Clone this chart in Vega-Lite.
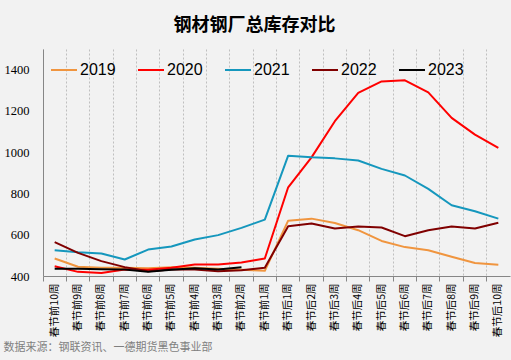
{
  "$schema": "https://vega.github.io/schema/vega-lite/v6.json",
  "width": 467,
  "height": 227,
  "autosize": {"type": "none"},
  "padding": {"left": 43, "top": 49, "right": 1, "bottom": 84},
  "background": "#f2f2f2",
  "title": {
    "text": "钢材钢厂总库存对比",
    "font": "Noto Sans CJK SC",
    "fontSize": 18,
    "fontWeight": "bold",
    "color": "#000000",
    "anchor": "middle",
    "dx": -22,
    "offset": 14
  },
  "config": {
    "view": {"stroke": null},
    "font": "Noto Sans CJK SC"
  },
  "datasets": {
    "inv": [
      {"week": "春节前10周", "year": "2019", "value": 485},
      {"week": "春节前9周", "year": "2019", "value": 445},
      {"week": "春节前8周", "year": "2019", "value": 440},
      {"week": "春节前7周", "year": "2019", "value": 440},
      {"week": "春节前6周", "year": "2019", "value": 438},
      {"week": "春节前5周", "year": "2019", "value": 443},
      {"week": "春节前4周", "year": "2019", "value": 440},
      {"week": "春节前3周", "year": "2019", "value": 435},
      {"week": "春节前2周", "year": "2019", "value": 430},
      {"week": "春节前1周", "year": "2019", "value": 425},
      {"week": "春节后1周", "year": "2019", "value": 668},
      {"week": "春节后2周", "year": "2019", "value": 678},
      {"week": "春节后3周", "year": "2019", "value": 657},
      {"week": "春节后4周", "year": "2019", "value": 622},
      {"week": "春节后5周", "year": "2019", "value": 570},
      {"week": "春节后6周", "year": "2019", "value": 540},
      {"week": "春节后7周", "year": "2019", "value": 525},
      {"week": "春节后8周", "year": "2019", "value": 493},
      {"week": "春节后9周", "year": "2019", "value": 463},
      {"week": "春节后10周", "year": "2019", "value": 455},

      {"week": "春节前10周", "year": "2020", "value": 447},
      {"week": "春节前9周", "year": "2020", "value": 420},
      {"week": "春节前8周", "year": "2020", "value": 415},
      {"week": "春节前7周", "year": "2020", "value": 432},
      {"week": "春节前6周", "year": "2020", "value": 430},
      {"week": "春节前5周", "year": "2020", "value": 440},
      {"week": "春节前4周", "year": "2020", "value": 456},
      {"week": "春节前3周", "year": "2020", "value": 456},
      {"week": "春节前2周", "year": "2020", "value": 465},
      {"week": "春节前1周", "year": "2020", "value": 485},
      {"week": "春节后1周", "year": "2020", "value": 830},
      {"week": "春节后2周", "year": "2020", "value": 975},
      {"week": "春节后3周", "year": "2020", "value": 1150},
      {"week": "春节后4周", "year": "2020", "value": 1287},
      {"week": "春节后5周", "year": "2020", "value": 1343},
      {"week": "春节后6周", "year": "2020", "value": 1348},
      {"week": "春节后7周", "year": "2020", "value": 1290},
      {"week": "春节后8周", "year": "2020", "value": 1166},
      {"week": "春节后9周", "year": "2020", "value": 1085},
      {"week": "春节后10周", "year": "2020", "value": 1021},

      {"week": "春节前10周", "year": "2021", "value": 525},
      {"week": "春节前9周", "year": "2021", "value": 515},
      {"week": "春节前8周", "year": "2021", "value": 509},
      {"week": "春节前7周", "year": "2021", "value": 480},
      {"week": "春节前6周", "year": "2021", "value": 528},
      {"week": "春节前5周", "year": "2021", "value": 543},
      {"week": "春节前4周", "year": "2021", "value": 577},
      {"week": "春节前3周", "year": "2021", "value": 598},
      {"week": "春节前2周", "year": "2021", "value": 633},
      {"week": "春节前1周", "year": "2021", "value": 673},
      {"week": "春节后1周", "year": "2021", "value": 983},
      {"week": "春节后2周", "year": "2021", "value": 975},
      {"week": "春节后3周", "year": "2021", "value": 970},
      {"week": "春节后4周", "year": "2021", "value": 960},
      {"week": "春节后5周", "year": "2021", "value": 919},
      {"week": "春节后6周", "year": "2021", "value": 887},
      {"week": "春节后7周", "year": "2021", "value": 822},
      {"week": "春节后8周", "year": "2021", "value": 743},
      {"week": "春节后9周", "year": "2021", "value": 714},
      {"week": "春节后10周", "year": "2021", "value": 678},

      {"week": "春节前10周", "year": "2022", "value": 564},
      {"week": "春节前9周", "year": "2022", "value": 512},
      {"week": "春节前8周", "year": "2022", "value": 472},
      {"week": "春节前7周", "year": "2022", "value": 443},
      {"week": "春节前6周", "year": "2022", "value": 423},
      {"week": "春节前5周", "year": "2022", "value": 432},
      {"week": "春节前4周", "year": "2022", "value": 432},
      {"week": "春节前3周", "year": "2022", "value": 423},
      {"week": "春节前2周", "year": "2022", "value": 428},
      {"week": "春节前1周", "year": "2022", "value": 440},
      {"week": "春节后1周", "year": "2022", "value": 641},
      {"week": "春节后2周", "year": "2022", "value": 654},
      {"week": "春节后3周", "year": "2022", "value": 630},
      {"week": "春节后4周", "year": "2022", "value": 640},
      {"week": "春节后5周", "year": "2022", "value": 635},
      {"week": "春节后6周", "year": "2022", "value": 593},
      {"week": "春节后7周", "year": "2022", "value": 622},
      {"week": "春节后8周", "year": "2022", "value": 640},
      {"week": "春节后9周", "year": "2022", "value": 630},
      {"week": "春节后10周", "year": "2022", "value": 658},

      {"week": "春节前10周", "year": "2023", "value": 435},
      {"week": "春节前9周", "year": "2023", "value": 435},
      {"week": "春节前8周", "year": "2023", "value": 433},
      {"week": "春节前7周", "year": "2023", "value": 432},
      {"week": "春节前6周", "year": "2023", "value": 420},
      {"week": "春节前5周", "year": "2023", "value": 430},
      {"week": "春节前4周", "year": "2023", "value": 438},
      {"week": "春节前3周", "year": "2023", "value": 432},
      {"week": "春节前2周", "year": "2023", "value": 442}
    ]
  },
  "data": {"name": "inv"},
  "mark": {"type": "line", "strokeJoin": "round"},
  "encoding": {
    "x": {
      "field": "week",
      "type": "nominal",
      "sort": null,
      "bandPosition": 0.5,
      "scale": {
        "type": "band",
        "paddingInner": 0,
        "paddingOuter": 0,
        "domain": ["春节前10周","春节前9周","春节前8周","春节前7周","春节前6周","春节前5周","春节前4周","春节前3周","春节前2周","春节前1周","春节后1周","春节后2周","春节后3周","春节后4周","春节后5周","春节后6周","春节后7周","春节后8周","春节后9周","春节后10周"]
      },
      "axis": {
        "title": "数据来源：钢联资讯、一德期货黑色事业部",
        "titleFont": "Noto Sans CJK SC",
        "titleFontSize": 11,
        "titleFontWeight": "normal",
        "titleColor": "#7f7f7f",
        "titleAnchor": "start",
        "titleAlign": "left",
        "titleBaseline": "alphabetic",
        "titleX": -40,
        "titleY": 74,
        "bandPosition": 0,
        "grid": true,
        "gridColor": "#bfbfbf",
        "gridDash": [2, 2],
        "gridWidth": 1,
        "domainColor": "#868686",
        "tickColor": "#868686",
        "tickSize": 5,
        "labelAngle": 270,
        "labelAlign": "right",
        "labelBaseline": "middle",
        "labelPadding": 2,
        "labelFont": "Noto Sans CJK SC",
        "labelFontSize": 10.5,
        "labelColor": "#000000"
      }
    },
    "y": {
      "field": "value",
      "type": "quantitative",
      "scale": {"domain": [400, 1500], "nice": false},
      "axis": {
        "title": null,
        "values": [400, 600, 800, 1000, 1200, 1400],
        "format": "d",
        "grid": false,
        "ticks": false,
        "domainColor": "#868686",
        "labelFont": "Liberation Serif",
        "labelFontSize": 12.5,
        "labelColor": "#000000",
        "labelPadding": 14
      }
    },
    "color": {
      "field": "year",
      "type": "nominal",
      "scale": {
        "domain": ["2019", "2020", "2021", "2022", "2023"],
        "range": ["#f0953f", "#ff0000", "#1597bd", "#800000", "#000000"]
      },
      "legend": {
        "title": null,
        "orient": "none",
        "legendX": 7,
        "legendY": 7,
        "direction": "horizontal",
        "columns": 5,
        "symbolType": "stroke",
        "symbolSize": 676,
        "labelFont": "Liberation Sans",
        "labelFontSize": 16,
        "labelColor": "#000000",
        "labelOffset": 2,
        "columnPadding": 18
      }
    },
    "strokeWidth": {
      "field": "year",
      "type": "nominal",
      "scale": {
        "domain": ["2019", "2020", "2021", "2022", "2023"],
        "range": [2, 2, 2, 2, 3]
      },
      "legend": {
        "title": null,
        "orient": "none",
        "legendX": 7,
        "legendY": 7,
        "direction": "horizontal",
        "columns": 5,
        "symbolType": "stroke",
        "symbolSize": 676,
        "labelFont": "Liberation Sans",
        "labelFontSize": 16,
        "labelColor": "#000000",
        "labelOffset": 2,
        "columnPadding": 18
      }
    }
  }
}
